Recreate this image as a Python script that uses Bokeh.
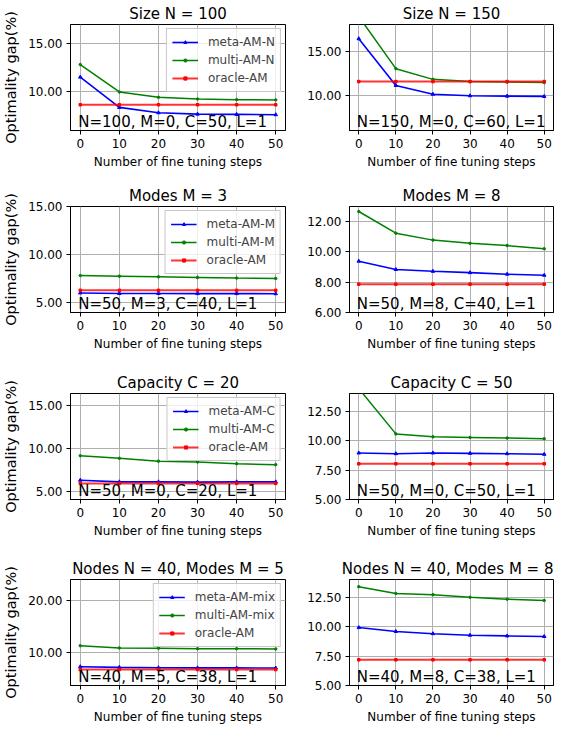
from bokeh.plotting import figure
from bokeh.layouts import gridplot
from bokeh.models import FixedTicker, PrintfTickFormatter, Label, Range1d
from bokeh.embed import file_html
from bokeh.resources import INLINE

FONT = "DejaVu Sans"

steps = [0, 10, 20, 30, 40, 50]

# Size N = 100
meta_N100 = [11.54, 8.40, 7.84, 7.70, 7.67, 7.64]
multi_N100 = [12.84, 10.00, 9.44, 9.27, 9.20, 9.17]
oracle_N100 = [8.67, 8.67, 8.67, 8.67, 8.67, 8.67]
# Size N = 150
meta_N150 = [16.39, 11.10, 10.10, 9.93, 9.89, 9.86]
multi_N150 = [18.90, 13.00, 11.79, 11.54, 11.48, 11.43]
oracle_N150 = [11.54, 11.54, 11.54, 11.54, 11.54, 11.54]
# Modes M = 3
meta_M3 = [6.03, 5.97, 5.97, 5.96, 5.96, 5.95]
multi_M3 = [7.83, 7.77, 7.70, 7.63, 7.57, 7.53]
oracle_M3 = [6.30, 6.30, 6.30, 6.30, 6.30, 6.30]
# Modes M = 8
meta_M8 = [9.39, 8.84, 8.72, 8.63, 8.53, 8.46]
multi_M8 = [12.67, 11.24, 10.78, 10.57, 10.42, 10.21]
oracle_M8 = [7.87, 7.87, 7.87, 7.87, 7.87, 7.87]
# Capacity C = 20
meta_C20 = [6.32, 6.13, 6.13, 6.10, 6.13, 6.13]
multi_C20 = [9.18, 8.88, 8.55, 8.44, 8.25, 8.14]
oracle_C20 = [5.95, 5.95, 5.95, 5.95, 5.95, 5.95]
# Capacity C = 50
meta_C50 = [8.95, 8.89, 8.95, 8.92, 8.89, 8.84]
multi_C50 = [14.42, 10.57, 10.32, 10.27, 10.22, 10.16]
oracle_C50 = [8.03, 8.03, 8.03, 8.03, 8.03, 8.03]
# Nodes N = 40, Modes M = 5
meta_mix5 = [7.18, 7.06, 6.99, 6.96, 6.95, 6.93]
multi_mix5 = [11.23, 10.80, 10.74, 10.67, 10.67, 10.61]
oracle_mix5 = [6.63, 6.63, 6.63, 6.63, 6.63, 6.63]
# Nodes N = 40, Modes M = 8
meta_mix8 = [9.92, 9.59, 9.40, 9.27, 9.21, 9.16]
multi_mix8 = [13.39, 12.82, 12.71, 12.49, 12.33, 12.22]
oracle_mix8 = [7.18, 7.18, 7.18, 7.18, 7.18, 7.18]

titles = ["Size N = 100", "Size N = 150", "Modes M = 3", "Modes M = 8",
          "Capacity C = 20", "Capacity C = 50",
          "Nodes N = 40, Modes M = 5", "Nodes N = 40, Modes M = 8"]
notes = ["N=100, M=0, C=50, L=1", "N=150, M=0, C=60, L=1",
         "N=50, M=3, C=40, L=1", "N=50, M=8, C=40, L=1",
         "N=50, M=0, C=20, L=1", "N=50, M=0, C=50, L=1",
         "N=40, M=5, C=38, L=1", "N=40, M=8, C=38, L=1"]
legend_labels = [["meta-AM-N", "multi-AM-N", "oracle-AM"], None,
                 ["meta-AM-M", "multi-AM-M", "oracle-AM"], None,
                 ["meta-AM-C", "multi-AM-C", "oracle-AM"], None,
                 ["meta-AM-mix", "multi-AM-mix", "oracle-AM"], None]
y_ranges = [(6, 17), (6, 18), (4, 15), (6, 13), (4.07, 16.45), (5, 14), (3.56, 24), (5, 14)]
y_ticks = [[10, 15], [10, 15], [5, 10, 15], [6, 8, 10, 12], [5, 10, 15],
           [5, 7.5, 10, 12.5], [10, 20], [5, 7.5, 10, 12.5]]
series = [(meta_N100, multi_N100, oracle_N100), (meta_N150, multi_N150, oracle_N150),
          (meta_M3, multi_M3, oracle_M3), (meta_M8, multi_M8, oracle_M8),
          (meta_C20, multi_C20, oracle_C20), (meta_C50, multi_C50, oracle_C50),
          (meta_mix5, multi_mix5, oracle_mix5), (meta_mix8, multi_mix8, oracle_mix8)]

ROW_H = [179, 187, 186, 179]
ROW_TOP = [24, 27, 27, 27]
FRAME_H = 106
LEFT_W, RIGHT_W = 295, 259


def make_panel(i):
    row, col = divmod(i, 2)
    h = ROW_H[row]
    top = ROW_TOP[row]
    bottom = h - top - FRAME_H
    if col == 0:
        w, bl, br = LEFT_W, 69, 10
    else:
        w, bl, br = RIGHT_W, 54, 1
    p = figure(width=w, height=h, output_backend="svg", toolbar_location=None,
               x_range=Range1d(-2.5, 52.5), y_range=Range1d(*y_ranges[i]),
               min_border_left=bl, min_border_right=br,
               min_border_top=top, min_border_bottom=bottom,
               title=titles[i])
    p.title.text_font = FONT
    p.title.text_font_size = "15px"
    p.title.text_font_style = "normal"
    p.title.text_color = "black"
    p.title.align = "right" if i == 7 else "center"
    p.title.standoff = 4

    meta, multi, oracle = series[i]
    labs = legend_labels[i]
    kw = (lambda k: {"legend_label": labs[k]}) if labs else (lambda k: {})
    p.line(steps, meta, line_color="blue", line_width=1.6, **kw(0))
    p.scatter(steps, meta, marker="triangle", size=3.5, color="blue", **kw(0))
    p.line(steps, multi, line_color="green", line_width=1.5, **kw(1))
    p.scatter(steps, multi, marker="circle", size=2.5, color="green", **kw(1))
    p.line(steps, oracle, line_color="red", line_width=2, line_alpha=0.8, **kw(2))
    p.scatter(steps, oracle, marker="square", size=2.5, color="red", **kw(2))

    p.xaxis.ticker = FixedTicker(ticks=steps)
    p.yaxis.ticker = FixedTicker(ticks=y_ticks[i])
    p.yaxis.formatter = PrintfTickFormatter(format="%.2f")
    for ax in (p.xaxis[0], p.yaxis[0]):
        ax.major_label_text_font = FONT
        ax.major_label_text_font_size = "12px"
        ax.major_label_text_color = "black"
        ax.major_tick_in = 0
        ax.major_tick_out = 4
        ax.major_label_standoff = 4
        ax.minor_tick_line_color = None
        ax.axis_line_color = "black"
        ax.major_tick_line_color = "black"
        ax.axis_label_text_font = FONT
        ax.axis_label_text_font_style = "normal"
        ax.axis_label_text_color = "black"
    p.xaxis.axis_label = "Number of fine tuning steps"
    p.xaxis.axis_label_text_font_size = "12px"
    p.xaxis.axis_label_standoff = 4
    if col == 0:
        p.yaxis.axis_label = "Optimality gap(%)"
        p.yaxis.axis_label_text_font_size = "14.5px"
        p.yaxis.axis_label_standoff = 6
    p.xgrid.grid_line_color = "#b0b0b0"
    p.ygrid.grid_line_color = "#b0b0b0"
    p.xgrid.grid_line_width = 1
    p.ygrid.grid_line_width = 1
    p.outline_line_color = "black"
    p.outline_line_width = 1
    p.outline_line_alpha = 1

    p.add_layout(Label(x=0, y=y_ranges[i][0], x_offset=-2, y_offset=0, text=notes[i],
                       text_baseline="bottom", text_align="left",
                       text_font=FONT, text_font_size="15px", text_color="black"))

    if labs:
        lg = p.legend[0]
        lg.location = "top_right"
        lg.margin = 4
        lg.padding = 5
        lg.spacing = 2
        lg.glyph_width = 26
        lg.glyph_height = 8
        lg.label_height = 16
        lg.label_standoff = 10
        lg.label_text_font = FONT
        lg.label_text_font_size = "12px"
        lg.border_line_color = "#c8c8c8"
        lg.border_line_alpha = 1
        lg.border_line_width = 1
        lg.background_fill_alpha = 0.8
    return p


panels = [make_panel(i) for i in range(8)]
grid = gridplot([[panels[0], panels[1]], [panels[2], panels[3]],
                 [panels[4], panels[5]], [panels[6], panels[7]]],
                toolbar_location=None)

open("out.html", "w").write(file_html(grid, INLINE))
